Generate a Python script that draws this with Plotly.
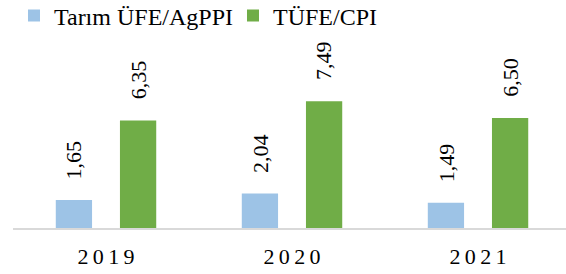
import plotly.graph_objects as go

years = ["2019", "2020", "2021"]
year_labels = ["2\u20090\u20091\u20099", "2\u20090\u20092\u20090", "2\u20090\u20092\u20091"]
series_names = ["Tarım ÜFE/AgPPI", "TÜFE/CPI"]
agppi = [1.65, 2.04, 1.49]
cpi = [6.35, 7.49, 6.50]
colors = ["#9DC3E6", "#70AD47"]

FONT = "Liberation Serif, Times New Roman, DejaVu Serif, serif"
xs = [0, 1, 2]
bar_w = 0.195
offsets = [-0.27, 0.075]

fig = go.Figure()
annotations = []
for name, vals, col, off in zip(series_names, [agppi, cpi], colors, offsets):
    fig.add_trace(go.Bar(
        x=xs, y=vals, name=name, width=bar_w, offset=off,
        marker=dict(color=col, line=dict(width=0)),
        hoverinfo="skip",
    ))
    for x, v in zip(xs, vals):
        annotations.append(dict(
            x=x + off + bar_w / 2, y=v, xref="x", yref="y",
            text=f"{v:.2f}".replace(".", ","), textangle=-90,
            showarrow=False, xanchor="center", yanchor="bottom", yshift=19,
            font=dict(family=FONT, size=22, color="#000000"),
        ))

fig.update_layout(
    width=566, height=274,
    margin=dict(l=13, r=0, t=30, b=46),
    paper_bgcolor="white", plot_bgcolor="white",
    barmode="overlay",
    showlegend=True,
    font=dict(family=FONT, color="#000000"),
    legend=dict(
        orientation="h",
        x=0.0018, y=1.121, xanchor="left", yanchor="middle",
        font=dict(family=FONT, size=24, color="#000000"),
        entrywidth=174, entrywidthmode="pixels",
        bgcolor="rgba(0,0,0,0)",
    ),
    annotations=annotations,
    xaxis=dict(
        range=[-0.5, 2.473], tickvals=xs, ticktext=year_labels,
        showgrid=False, zeroline=False, showline=True,
        linecolor="#D9D9D9", linewidth=1.5,
        ticks="", ticklabelstandoff=8,
        tickfont=dict(family=FONT, size=22, color="#000000"),
    ),
    yaxis=dict(
        range=[0, 10.82], visible=False, showgrid=False, zeroline=False,
    ),
)

post = """
document.body.style.margin='0';
document.body.style.overflow='hidden';
var lg=document.querySelector('g.legend');
if(lg){var t=lg.getAttribute('transform')||'';
var m=t.match(/translate\\(\\s*([-\\d.e]+)[ ,]+([-\\d.e]+)\\s*\\)/);
if(m){lg.setAttribute('transform','translate('+m[1]+','+(parseFloat(m[2])-7)+')');}}
"""

fig.write_html(
    "out.html",
    config={"displayModeBar": False, "staticPlot": True},
    post_script=post,
)
